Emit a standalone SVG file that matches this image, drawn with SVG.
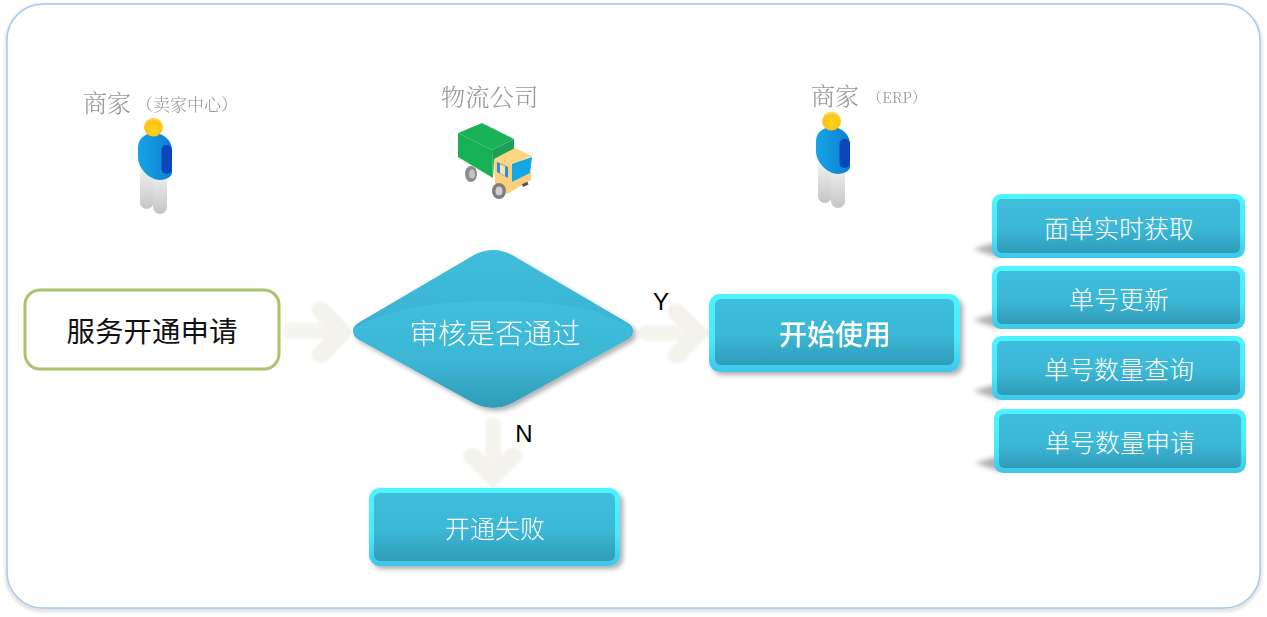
<svg xmlns="http://www.w3.org/2000/svg" width="1267" height="617" viewBox="0 0 1267 617">
<defs>
<linearGradient id="b" x1="0" y1="0" x2="0" y2="1"><stop offset="0" stop-color="#40bedd"/><stop offset="0.55" stop-color="#3cb7d6"/><stop offset="1" stop-color="#2f9cb8"/></linearGradient>
<linearGradient id="up" x1="0" y1="0" x2="0" y2="1"><stop offset="0" stop-color="#41bddc"/><stop offset="0.5" stop-color="#3ab3d2"/><stop offset="1" stop-color="#2f9cb8"/></linearGradient>
<linearGradient id="rim" x1="0" y1="0" x2="0" y2="1"><stop offset="0" stop-color="#4df5ff"/><stop offset="0.6" stop-color="#4be8fb"/><stop offset="1" stop-color="#3fc6e6"/></linearGradient>
<linearGradient id="body" x1="0" y1="0" x2="1" y2="0"><stop offset="0" stop-color="#16a4e6"/><stop offset="1" stop-color="#0d7fd0"/></linearGradient>
<linearGradient id="leg" x1="0" y1="0" x2="0" y2="1"><stop offset="0" stop-color="#f4f4f4"/><stop offset="1" stop-color="#c6c6c6"/></linearGradient>
<radialGradient id="head" cy="0.62" r="0.6"><stop offset="0" stop-color="#ffd21a"/><stop offset="0.75" stop-color="#fcc414"/><stop offset="1" stop-color="#f8e08c"/></radialGradient>
<filter id="s" x="-10%" y="-20%" width="125%" height="150%"><feGaussianBlur in="SourceAlpha" stdDeviation="2.5"/><feOffset dx="3" dy="3"/><feComponentTransfer><feFuncA type="linear" slope="0.32"/></feComponentTransfer><feMerge><feMergeNode/><feMergeNode in="SourceGraphic"/></feMerge></filter>
<filter id="blur" x="-30%" y="-30%" width="160%" height="160%"><feGaussianBlur stdDeviation="2.5"/></filter>
<filter id="soft" x="-10%" y="-10%" width="120%" height="120%"><feGaussianBlur stdDeviation="0.9"/></filter>
<g id="person">
<rect x="-15" y="30" width="13.5" height="44" rx="6.7" fill="url(#leg)"/>
<rect x="-2" y="34" width="14" height="45" rx="7" fill="url(#leg)"/>
<path d="M-17 12 C-17 3 -9 -2 -1 -2 C9 -2 17 6 17 15 L17 38 C17 42 10 45 5 45 C-5 45 -17 34 -17 22 Z" fill="url(#body)"/>
<rect x="6.5" y="10" width="10.5" height="29" rx="5" fill="#0b47b8"/>
<circle cx="-1.5" cy="-8" r="9.5" fill="url(#head)"/>
</g>
</defs>
<style>
text{font-family:"Noto Sans CJK SC","Liberation Sans",sans-serif}
.w{fill:#fff;text-anchor:middle;font-weight:300}
.g{fill:#969696;font-family:"Noto Serif CJK SC","Noto Sans CJK SC",serif;font-weight:300}
.l{fill:#000;font-family:"Liberation Sans",sans-serif;font-size:24px;text-anchor:middle}
.rim{fill:url(#rim)}
.in{fill:url(#b)}
.arrow{fill:none;stroke:#f5f4ef;stroke-width:16;stroke-linecap:round}
.tip{fill:#f3f2ec}
</style>
<rect width="1267" height="617" fill="#fff"/>
<g id="frame">
<rect x="7" y="6" width="1253" height="604" rx="36" fill="#dedede" filter="url(#blur)" opacity="0.75"/>
<rect x="7" y="4" width="1253" height="604" rx="36" fill="none" stroke="#dcdcdc" stroke-width="5" transform="translate(0,2)" filter="url(#soft)" opacity="0.6"/>
<rect x="7" y="5" width="1253" height="603" rx="36" fill="#fff"/>
<rect x="7" y="4" width="1253" height="604" rx="36" fill="none" stroke="#a9c9ee" stroke-width="1.5"/>
</g>
<g id="connectors" filter="url(#soft)">
<g id="c1"><path class="arrow" d="M291 331H340"/><path class="tip" d="M354 332L327 304Q320 299 314 304Q309 310 315 317L330 332L315 348Q309 355 314 360Q320 366 327 361Z"/></g>
<g id="c2"><path class="arrow" d="M646 333H695"/><path class="tip" d="M710 333L683 306Q676 301 670 306Q665 312 671 319L686 333L671 349Q665 356 670 361Q676 366 683 362Z"/></g>
<g id="c3"><path class="arrow" d="M493 425V475"/><path class="tip" d="M493 489L465 461Q461 455 466 450Q472 445 479 450L493 465L507 450Q514 445 520 450Q525 455 521 461Z"/></g>
</g>
<g id="start">
<rect x="25" y="290" width="254" height="79" rx="15" fill="#fff" stroke="#abc36b" stroke-width="3"/>
<text x="152" y="342" font-size="28.5" fill="#111" text-anchor="middle">服务开通申请</text>
</g>
<g id="decision" filter="url(#s)">
<path d="M353 331 Q353 326 358 323 L474 255 Q493 245 512 255 L628 323 Q633 326 633 331 Q633 336 628 339 L512 403 Q493 412 474 403 L358 339 Q353 336 353 331Z" fill="url(#up)"/>
<path d="M355 328 Q400 301 493 301 Q590 301 631 328 Q633 336 628 339 L512 403 Q493 412 474 403 L358 339 Q353 336 355 328Z" class="in"/>
<text class="w" x="495" y="344" font-size="28.5">审核是否通过</text>
</g>
<g id="use" filter="url(#s)">
<rect x="709" y="294" width="251" height="78" rx="11" class="rim"/>
<rect x="715" y="299" width="239" height="66" rx="6" class="in"/>
<text class="w" x="835" y="345" font-size="28" style="font-weight:500">开始使用</text>
</g>
<g id="fail" filter="url(#s)">
<rect x="369" y="488" width="251" height="78" rx="11" class="rim"/>
<rect x="374" y="493" width="241" height="68" rx="6" class="in"/>
<text class="w" x="495" y="538" font-size="25">开通失败</text>
</g>
<g id="f1">
<path d="M973 249L1000 241L1000 258Z" fill="#b0b0b0" filter="url(#blur)"/>
<rect x="992" y="194" width="253" height="64" rx="9" class="rim"/>
<rect x="997" y="199" width="243" height="54" rx="5" class="in"/>
<text class="w" x="1119" y="238" font-size="25">面单实时获取</text>
</g>
<g id="f2">
<path d="M973 320L1000 312L1000 329Z" fill="#b0b0b0" filter="url(#blur)"/>
<rect x="992" y="266" width="253" height="63" rx="9" class="rim"/>
<rect x="997" y="271" width="243" height="53" rx="5" class="in"/>
<text class="w" x="1119" y="309" font-size="25">单号更新</text>
</g>
<g id="f3">
<path d="M973 391L1000 383L1000 400Z" fill="#b0b0b0" filter="url(#blur)"/>
<rect x="992" y="336" width="253" height="64" rx="9" class="rim"/>
<rect x="997" y="341" width="243" height="54" rx="5" class="in"/>
<text class="w" x="1119" y="379" font-size="25">单号数量查询</text>
</g>
<g id="f4">
<path d="M975 463L1002 455L1002 472Z" fill="#b0b0b0" filter="url(#blur)"/>
<rect x="994" y="409" width="252" height="64" rx="9" class="rim"/>
<rect x="999" y="414" width="242" height="54" rx="5" class="in"/>
<text class="w" x="1120" y="452" font-size="25">单号数量申请</text>
</g>
<g id="labels">
<text class="l" x="661" y="310">Y</text>
<text class="l" x="524" y="442">N</text>
</g>
<g id="merchant1">
<g opacity="0.99">
<text class="g" x="83" y="112" font-size="24">商家</text>
<text class="g" x="136" y="111" font-size="17">（卖家中心）</text>
</g>
<use href="#person" x="155" y="135"/>
</g>
<g id="logistics">
<text class="g" x="441" y="106" font-size="24.3" opacity="0.99">物流公司</text>
<g id="truck">
<ellipse cx="471" cy="174" rx="6" ry="8" fill="#8c8c8c"/><ellipse cx="472" cy="174" rx="3" ry="4.5" fill="#c4c4c4"/>
<path d="M458 133L482 123L514 139L492 150Z" fill="#18b358"/>
<path d="M458 133L492 150L493 178L458 157Z" fill="#16b055"/>
<path d="M492 150L514 139L514 150L494 160L493 178Z" fill="#1f9e55"/>
<path d="M494 159L515 148L532 156L512 165Z" fill="#fcd684"/>
<path d="M494 159L512 165L512 182L531 172L531 180L507 194L495 185Z" fill="#fbd07a"/>
<path d="M512 164L532 157L530 173L512 182Z" fill="#12a6e6"/>
<path d="M497 162L508 167L508 178L497 172Z" fill="#2e8fd8"/>
<path d="M500 164L505 166L505 176L500 173Z" fill="#fbe2a8"/>
<rect x="522" y="183" width="6" height="3" fill="#555" transform="rotate(-25 525 184)"/>
<ellipse cx="499" cy="191" rx="7" ry="8" fill="#7e7e7e"/><ellipse cx="499" cy="191" rx="3.5" ry="4.5" fill="#cfcfcf"/>
</g>
</g>
<g id="merchant2">
<g opacity="0.99">
<text class="g" x="811" y="105" font-size="24">商家</text>
<text class="g" x="867" y="103" font-size="15">（ERP）</text>
</g>
<use href="#person" x="833" y="129"/>
</g>
</svg>
